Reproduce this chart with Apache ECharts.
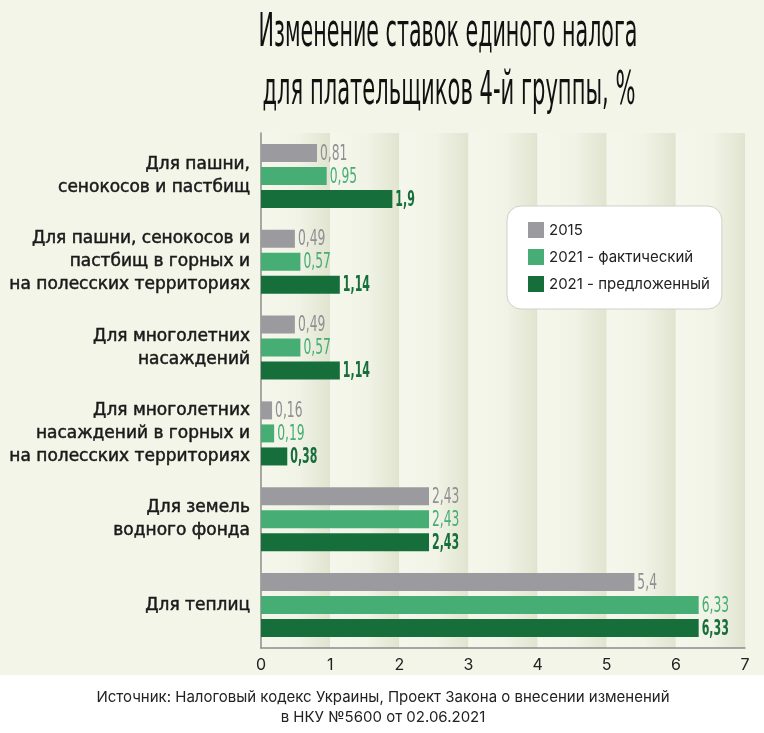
<!DOCTYPE html>
<html><head><meta charset="utf-8">
<script src="https://cdn.jsdelivr.net/npm/echarts@6/dist/echarts.min.js"></script>
<style>
html,body{margin:0;padding:0;background:#fff}
#c{width:764px;height:733px;background:linear-gradient(to bottom,#f3f5e8 0,#f3f5e8 675px,#ffffff 675px,#ffffff 100%)}
</style>
</head><body><div id="c"></div>
<script>
const titleLines = ['Изменение ставок единого налога', 'для плательщиков 4-й группы, %'];
const sourceLines = ['Источник: Налоговый кодекс Украины, Проект Закона о внесении изменений', 'в НКУ №5600 от 02.06.2021'];
const categories = [
  'Для пашни,\nсенокосов и пастбищ',
  'Для пашни, сенокосов и\nпастбищ в горных и\nна полесских территориях',
  'Для многолетних\nнасаждений',
  'Для многолетних\nнасаждений в горных и\nна полесских территориях',
  'Для земель\nводного фонда',
  'Для теплиц'
];
const seriesNames = ['2015', '2021 - фактический', '2021 - предложенный'];
const s2015 = [0.81, 0.49, 0.49, 0.16, 2.43, 5.4];
const s2021fact = [0.95, 0.57, 0.57, 0.19, 2.43, 6.33];
const s2021prop = [1.9, 1.14, 1.14, 0.38, 2.43, 6.33];
const axisMin = 0, axisMax = 7, axisStep = 1;

const barColors = ['#9b9b9f', '#46ae74', '#166f3b'];
const labelColors = ['#8f8f94', '#46ae74', '#166f3b'];
const BAR_W = 18, BAR_STEP = 23;

function fmt(v) { return String(v).replace('.', ','); }

// condensed title via horizontal scaling
const cv = document.createElement('canvas').getContext('2d');
cv.font = '46px "DejaVu Sans"';
const titleScale1 = 379 / cv.measureText(titleLines[0]).width;
const titleScale2 = 373 / cv.measureText(titleLines[1]).width;

function barSeries(name, data, color) {
  return {
    type: 'bar', name: name, data: data,
    barWidth: BAR_W, barGap: '28%',
    itemStyle: { color: color },
    emphasis: { disabled: true }
  };
}
function labelSeries(values, idx, bold) {
  return {
    type: 'custom', silent: true, z: 5,
    data: values.map((v, i) => [v, i]),
    encode: { x: 0, y: 1 },
    renderItem: function (params, api) {
      const p = api.coord([api.value(0), api.value(1)]);
      return {
        type: 'text', x: p[0] + 3, y: p[1] + (idx - 1) * BAR_STEP + 1,
        scaleX: bold ? 0.5 : 0.56,
        style: {
          text: fmt(api.value(0)), fill: labelColors[idx],
          fontSize: 22, fontFamily: 'DejaVu Sans', fontWeight: bold ? 'bold' : 'normal',
          align: 'left', verticalAlign: 'middle'
        }
      };
    }
  };
}

const stripe = new echarts.graphic.LinearGradient(0, 0, 1, 0, [
  { offset: 0, color: '#f5f7ec' },
  { offset: 0.55, color: '#f0f3e5' },
  { offset: 1, color: '#e0e4cf' }
]);

const chart = echarts.init(document.getElementById('c'), null, { renderer: 'canvas' });
chart.setOption({
  backgroundColor: 'transparent',
  animation: false,
  grid: { left: 261, right: 19, top: 133, bottom: 85, containLabel: false },
  legend: {
    data: seriesNames, orient: 'vertical', left: 507, top: 206,
    itemWidth: 16, itemHeight: 16, itemGap: 11, icon: 'rect',
    backgroundColor: '#ffffff', borderColor: '#cfd1c8', borderWidth: 1, borderRadius: 14,
    padding: [16, 12, 17, 21],
    textStyle: { fontFamily: 'Inter', fontSize: 15, color: '#222222' },
    selectedMode: false
  },
  xAxis: {
    type: 'value', min: axisMin, max: axisMax, interval: axisStep,
    axisLine: { show: true, lineStyle: { color: '#8c8c8c', width: 1.5 } },
    axisTick: { show: false },
    splitLine: { show: false },
    splitArea: { show: true, areaStyle: { color: [stripe] } },
    axisLabel: { fontFamily: 'Inter', fontSize: 16, color: '#222222', margin: 9 }
  },
  yAxis: {
    type: 'category', data: categories, inverse: true,
    axisLine: { show: true, lineStyle: { color: '#8c8c8c', width: 1.5 } },
    axisTick: { show: false },
    axisLabel: {
      fontFamily: 'DejaVu Sans', fontSize: 17, fontWeight: 'normal', color: '#1a1a1a',
      textBorderColor: '#1a1a1a', textBorderWidth: 0.5,
      lineHeight: 23, margin: 11, align: 'right'
    }
  },
  series: [
    barSeries(seriesNames[0], s2015, barColors[0]),
    barSeries(seriesNames[1], s2021fact, barColors[1]),
    barSeries(seriesNames[2], s2021prop, barColors[2]),
    labelSeries(s2015, 0, false),
    labelSeries(s2021fact, 1, false),
    labelSeries(s2021prop, 2, true)
  ],
  graphic: [
    { type: 'text', x: 448, y: 34, scaleX: titleScale1, style: { text: titleLines[0], fontSize: 46, fontWeight: 'normal', fontFamily: 'DejaVu Sans', fill: '#111111', align: 'center', verticalAlign: 'middle' } },
    { type: 'text', x: 449, y: 92, scaleX: titleScale2, style: { text: titleLines[1], fontSize: 46, fontWeight: 'normal', fontFamily: 'DejaVu Sans', fill: '#111111', align: 'center', verticalAlign: 'middle' } },
    { type: 'text', x: 383, y: 697, style: { text: sourceLines[0], fontSize: 15, fontFamily: 'Inter', fill: '#222222', align: 'center', verticalAlign: 'middle' } },
    { type: 'text', x: 383, y: 717, style: { text: sourceLines[1], fontSize: 15, fontFamily: 'Inter', fill: '#222222', align: 'center', verticalAlign: 'middle' } }
  ]
});
</script>
</body></html>
